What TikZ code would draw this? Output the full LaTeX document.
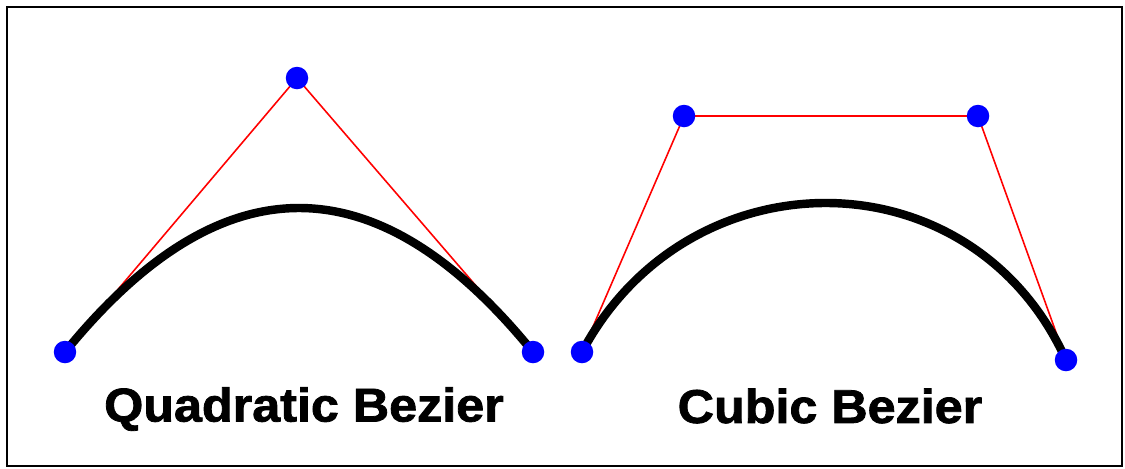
\documentclass[tikz,border=0pt]{standalone}
\usepackage{fontspec}
\setsansfont{Liberation Sans}[BoldFeatures={FakeBold=1.6}]
\usepackage{tikz}
\usetikzlibrary{positioning,calc,backgrounds}
\tikzset{
  ctrl/.style  = {draw=none, circle, fill=blue, inner sep=0pt, minimum size=4.5mm},
  hull/.style  = {red, line width=0.9pt},
  curve/.style = {black, line width=4.8pt, line cap=round},
  ttl/.style   = {font=\sffamily\bfseries\fontsize{27}{30}\selectfont, inner sep=0pt},
  frame/.style = {line width=1.6pt}
}
\begin{document}
\begin{tikzpicture}[x=0.02cm, y=-0.02cm]
\useasboundingbox (0,0) rectangle (1125,468);
\draw[frame] (7,7) rectangle (1122,466);

% ---------- quadratic (left) ----------
\node[ctrl] (q0) at (65,352) {};
\node[ctrl] (q1) at (297,78) {};
\node[ctrl] (q2) at (533,352) {};
% quadratic written as cubic: 2/3 of the way to the control point
\coordinate (qa) at (221,160);
\coordinate (qb) at (377,160);
\begin{scope}[on background layer]
  \draw[hull] (q0.center) -- (q1.center) -- (q2.center);
  \draw[curve] (q0.center) .. controls (qa) and (qb) .. (q2.center);
\end{scope}
\node[ttl, xscale=1.06] (qt) at (304,409) {Quadratic Bezier};

% ---------- cubic (right) ----------
\node[ctrl] (c0) at (582,352) {};
\node[ctrl] (c1) at (684,116) {};
\node[ctrl] (c2) at (978,116) {};
\node[ctrl] (c3) at (1066,360) {};
\coordinate (ca) at (688,152);
\coordinate (cb) at (972,152);
\begin{scope}[on background layer]
  \draw[hull] (c0.center) -- (c1.center) -- (c2.center) -- (c3.center);
  \draw[curve] (c0.center) .. controls (ca) and (cb) .. (c3.center);
\end{scope}
\node[ttl, xscale=1.06] (ct) at (830,406) {Cubic Bezier};

\end{tikzpicture}
\end{document}
